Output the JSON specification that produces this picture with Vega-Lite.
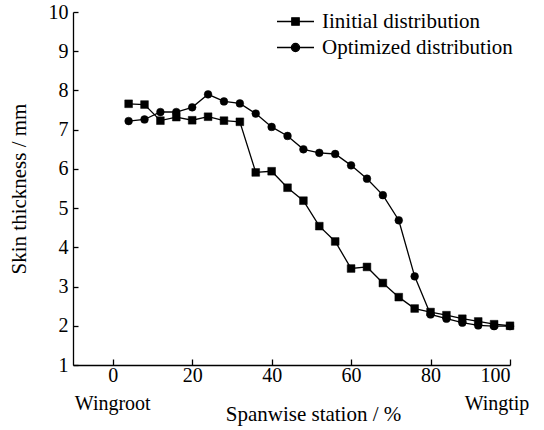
{
  "$schema": "https://vega.github.io/schema/vega-lite/v6.json",
  "autosize": {"type": "none"},
  "padding": {"left": 73, "top": 12, "right": 34, "bottom": 65},
  "width": 437,
  "height": 353,
  "background": "white",
  "config": {
    "view": {"stroke": null},
    "font": "Liberation Serif",
    "axis": {
      "labelFont": "Liberation Serif",
      "titleFont": "Liberation Serif",
      "labelColor": "black",
      "titleColor": "black",
      "domainColor": "black",
      "tickColor": "black",
      "domainWidth": 1.3,
      "tickWidth": 1.3,
      "grid": false,
      "titleFontWeight": "normal",
      "labelFontSize": 20,
      "titleFontSize": 21,
      "labelOverlap": false,
      "labelBound": false
    },
    "legend": {
      "labelFont": "Liberation Serif",
      "labelColor": "black",
      "labelFontSize": 21,
      "labelLimit": 400,
      "title": null,
      "orient": "none",
      "padding": 0,
      "labelOffset": 7,
      "symbolSize": 1369,
      "symbolStrokeWidth": 1.3,
      "symbolStrokeColor": "black",
      "symbolFillColor": "black",
      "symbolOpacity": 1
    }
  },
  "datasets": {
    "skin": [
      {"station": 4, "thickness": 7.66, "series": "Iinitial distribution"},
      {"station": 8, "thickness": 7.64, "series": "Iinitial distribution"},
      {"station": 12, "thickness": 7.23, "series": "Iinitial distribution"},
      {"station": 16, "thickness": 7.32, "series": "Iinitial distribution"},
      {"station": 20, "thickness": 7.24, "series": "Iinitial distribution"},
      {"station": 24, "thickness": 7.33, "series": "Iinitial distribution"},
      {"station": 28, "thickness": 7.23, "series": "Iinitial distribution"},
      {"station": 32, "thickness": 7.2, "series": "Iinitial distribution"},
      {"station": 36, "thickness": 5.91, "series": "Iinitial distribution"},
      {"station": 40, "thickness": 5.94, "series": "Iinitial distribution"},
      {"station": 44, "thickness": 5.52, "series": "Iinitial distribution"},
      {"station": 48, "thickness": 5.19, "series": "Iinitial distribution"},
      {"station": 52, "thickness": 4.54, "series": "Iinitial distribution"},
      {"station": 56, "thickness": 4.15, "series": "Iinitial distribution"},
      {"station": 60, "thickness": 3.46, "series": "Iinitial distribution"},
      {"station": 64, "thickness": 3.5, "series": "Iinitial distribution"},
      {"station": 68, "thickness": 3.09, "series": "Iinitial distribution"},
      {"station": 72, "thickness": 2.73, "series": "Iinitial distribution"},
      {"station": 76, "thickness": 2.44, "series": "Iinitial distribution"},
      {"station": 80, "thickness": 2.35, "series": "Iinitial distribution"},
      {"station": 84, "thickness": 2.27, "series": "Iinitial distribution"},
      {"station": 88, "thickness": 2.18, "series": "Iinitial distribution"},
      {"station": 92, "thickness": 2.11, "series": "Iinitial distribution"},
      {"station": 96, "thickness": 2.04, "series": "Iinitial distribution"},
      {"station": 100, "thickness": 2.0, "series": "Iinitial distribution"},
      {"station": 4, "thickness": 7.22, "series": "Optimized distribution"},
      {"station": 8, "thickness": 7.26, "series": "Optimized distribution"},
      {"station": 12, "thickness": 7.45, "series": "Optimized distribution"},
      {"station": 16, "thickness": 7.45, "series": "Optimized distribution"},
      {"station": 20, "thickness": 7.57, "series": "Optimized distribution"},
      {"station": 24, "thickness": 7.9, "series": "Optimized distribution"},
      {"station": 28, "thickness": 7.72, "series": "Optimized distribution"},
      {"station": 32, "thickness": 7.67, "series": "Optimized distribution"},
      {"station": 36, "thickness": 7.41, "series": "Optimized distribution"},
      {"station": 40, "thickness": 7.07, "series": "Optimized distribution"},
      {"station": 44, "thickness": 6.84, "series": "Optimized distribution"},
      {"station": 48, "thickness": 6.5, "series": "Optimized distribution"},
      {"station": 52, "thickness": 6.41, "series": "Optimized distribution"},
      {"station": 56, "thickness": 6.38, "series": "Optimized distribution"},
      {"station": 60, "thickness": 6.09, "series": "Optimized distribution"},
      {"station": 64, "thickness": 5.75, "series": "Optimized distribution"},
      {"station": 68, "thickness": 5.33, "series": "Optimized distribution"},
      {"station": 72, "thickness": 4.69, "series": "Optimized distribution"},
      {"station": 76, "thickness": 3.26, "series": "Optimized distribution"},
      {"station": 80, "thickness": 2.29, "series": "Optimized distribution"},
      {"station": 84, "thickness": 2.18, "series": "Optimized distribution"},
      {"station": 88, "thickness": 2.08, "series": "Optimized distribution"},
      {"station": 92, "thickness": 2.01, "series": "Optimized distribution"},
      {"station": 96, "thickness": 1.99, "series": "Optimized distribution"},
      {"station": 100, "thickness": 1.99, "series": "Optimized distribution"}
    ],
    "ends": [
      {"station": 0, "label": "Wingroot"},
      {"station": 100, "label": "Wingtip"}
    ]
  },
  "resolve": {"scale": {"color": "independent"}},
  "layer": [
    {
      "resolve": {"scale": {"color": "independent"}},
      "encoding": {
        "x": {
          "field": "station", "type": "quantitative",
          "scale": {"domain": [-10, 100], "nice": false, "zero": false},
          "axis": {
            "values": [0, 20, 40, 60, 80, 100],
            "tickSize": -6,
            "labelPadding": 6,
            "title": "Spanwise station / %",
            "titleX": 240,
            "titleY": 55,
            "titleBaseline": "alphabetic",
            "titleAlign": "center",
            "titleAnchor": null
          }
        },
        "y": {
          "field": "thickness", "type": "quantitative",
          "scale": {"domain": [1, 10], "nice": false, "zero": false},
          "axis": {
            "values": [1, 2, 3, 4, 5, 6, 7, 8, 9, 10],
            "tickSize": -5,
            "labelPadding": 10,
            "title": "Skin thickness / mm",
            "titlePadding": 19
          }
        }
      },
      "layer": [
        {
          "data": {"name": "skin"},
          "mark": {"type": "line", "color": "black", "strokeWidth": 1.3},
          "encoding": {"detail": {"field": "series"}}
        },
        {
          "data": {"name": "skin"},
          "transform": [{"filter": "datum.series === 'Iinitial distribution'"}],
          "mark": {"type": "point", "shape": "square", "filled": true, "opacity": 1, "size": 60, "stroke": "black", "strokeWidth": 0.5},
          "encoding": {
            "color": {
              "field": "series", "type": "nominal",
              "scale": {"range": ["black"]},
              "legend": {"legendX": 203, "legendY": -10, "symbolType": "M-1,0H1M-0.2,-0.2H0.2V0.2H-0.2Z"}
            }
          }
        },
        {
          "data": {"name": "skin"},
          "transform": [{"filter": "datum.series === 'Optimized distribution'"}],
          "mark": {"type": "point", "shape": "circle", "filled": true, "opacity": 1, "size": 60, "stroke": "black", "strokeWidth": 0.5},
          "encoding": {
            "color": {
              "field": "series", "type": "nominal",
              "scale": {"range": ["black"]},
              "legend": {"legendX": 203, "legendY": 16, "symbolType": "M-1,0H1M0.22,0A0.22,0.22,0,1,1,-0.22,0A0.22,0.22,0,1,1,0.22,0Z"}
            }
          }
        }
      ]
    },
    {
      "data": {"name": "ends"},
      "transform": [{"filter": "datum.station === 0"}],
      "mark": {"type": "text", "font": "Liberation Serif", "fontSize": 20, "color": "black", "align": "center", "baseline": "alphabetic", "dy": 45},
      "encoding": {
        "x": {
          "field": "station", "type": "quantitative",
          "scale": {"domain": [-10, 100], "nice": false, "zero": false},
          "axis": {
            "values": [0, 20, 40, 60, 80, 100],
            "tickSize": -6,
            "labelPadding": 6,
            "title": "Spanwise station / %",
            "titleX": 240,
            "titleY": 55,
            "titleBaseline": "alphabetic",
            "titleAlign": "center",
            "titleAnchor": null
          }
        },
        "y": {
          "datum": 1, "type": "quantitative",
          "scale": {"domain": [1, 10], "nice": false, "zero": false},
          "axis": {
            "values": [1, 2, 3, 4, 5, 6, 7, 8, 9, 10],
            "tickSize": -5,
            "labelPadding": 10,
            "title": "Skin thickness / mm",
            "titlePadding": 19
          }
        },
        "text": {"field": "label"}
      }
    },
    {
      "data": {"name": "ends"},
      "transform": [{"filter": "datum.station === 100"}],
      "mark": {"type": "text", "font": "Liberation Serif", "fontSize": 20, "color": "black", "align": "center", "baseline": "alphabetic", "dy": 45, "dx": -13},
      "encoding": {
        "x": {
          "field": "station", "type": "quantitative",
          "scale": {"domain": [-10, 100], "nice": false, "zero": false},
          "axis": {
            "values": [0, 20, 40, 60, 80, 100],
            "tickSize": -6,
            "labelPadding": 6,
            "title": "Spanwise station / %",
            "titleX": 240,
            "titleY": 55,
            "titleBaseline": "alphabetic",
            "titleAlign": "center",
            "titleAnchor": null
          }
        },
        "y": {
          "datum": 1, "type": "quantitative",
          "scale": {"domain": [1, 10], "nice": false, "zero": false},
          "axis": {
            "values": [1, 2, 3, 4, 5, 6, 7, 8, 9, 10],
            "tickSize": -5,
            "labelPadding": 10,
            "title": "Skin thickness / mm",
            "titlePadding": 19
          }
        },
        "text": {"field": "label"}
      }
    }
  ]
}
